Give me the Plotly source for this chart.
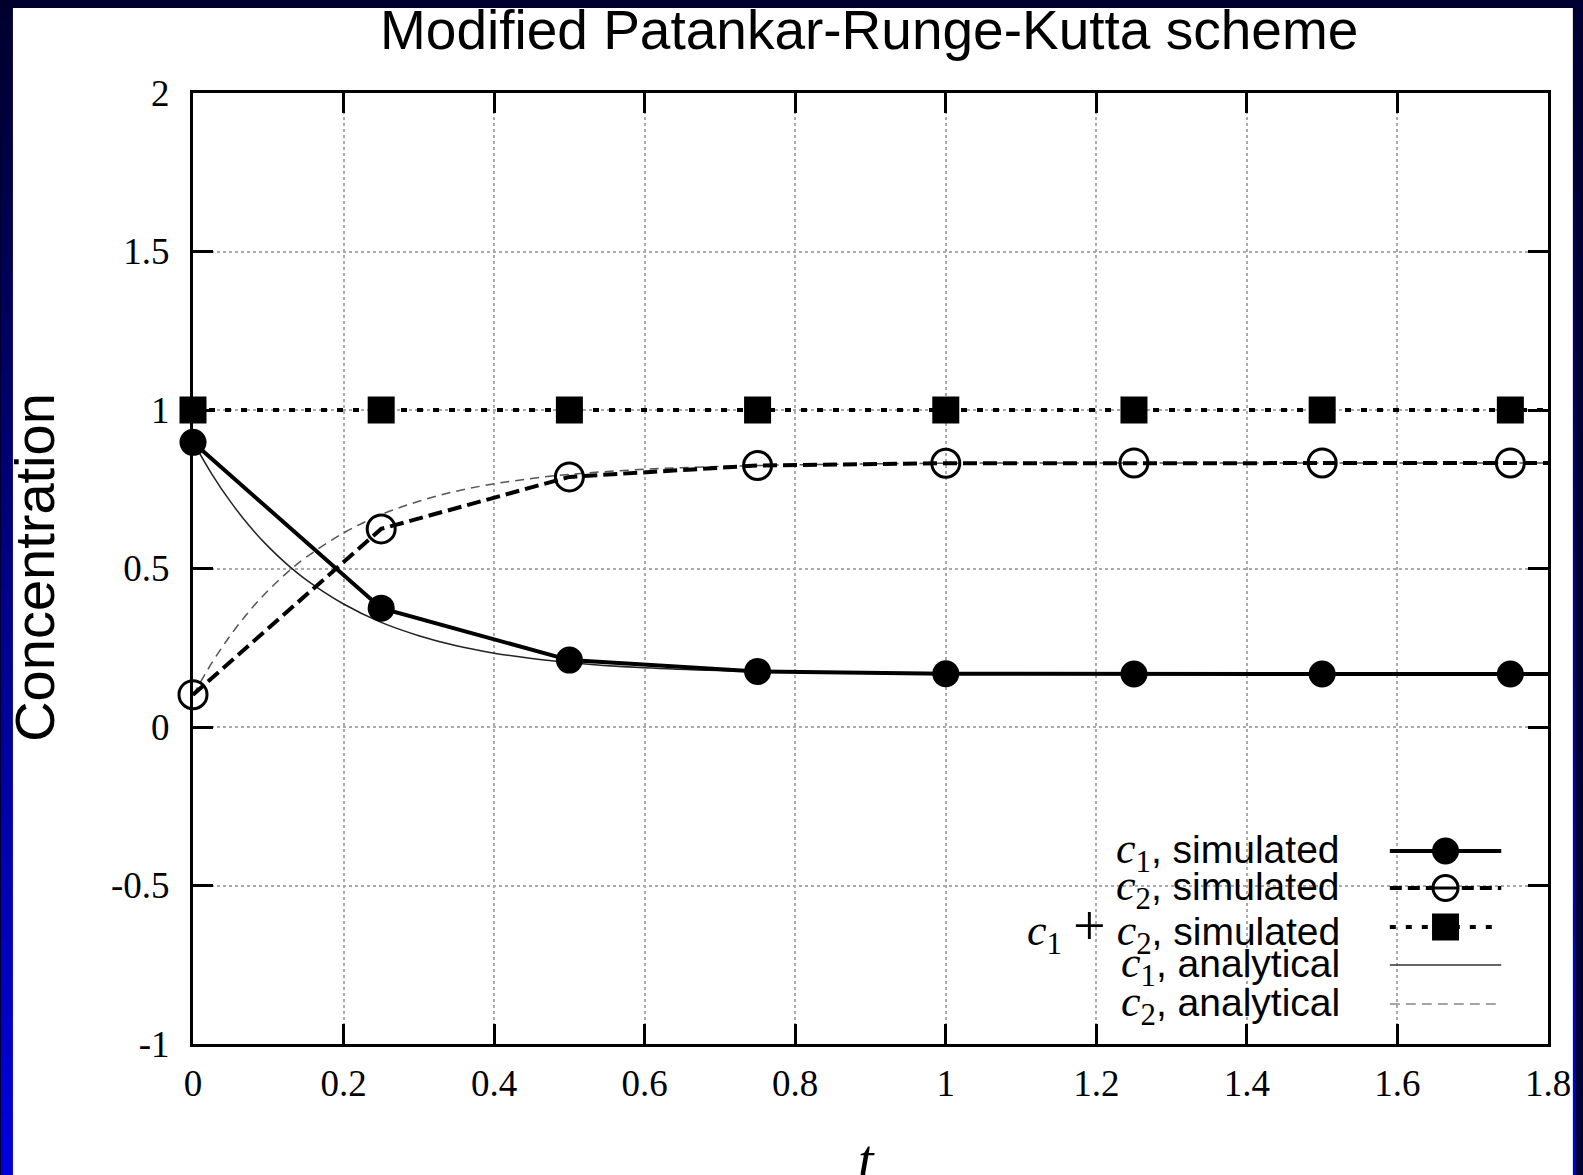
import plotly.graph_objects as go

# ---------------- data ----------------
t_sim = [0.0, 0.25, 0.5, 0.75, 1.0, 1.25, 1.5, 1.75, 2.0]
c1_sim = [0.898, 0.375, 0.211, 0.175, 0.168, 0.167, 0.167, 0.167, 0.167]
c2_sim = [0.102, 0.625, 0.789, 0.825, 0.832, 0.833, 0.833, 0.833, 0.833]
sum_sim = [1.0, 1.0, 1.0, 1.0, 1.0, 1.0, 1.0, 1.0, 1.0]

t_ana = [0.0, 0.025, 0.05, 0.075, 0.1, 0.125, 0.15, 0.2, 0.25, 0.3, 0.35, 0.4,
         0.45, 0.5, 0.6, 0.7, 0.8, 0.9, 1.0, 1.2, 1.4, 1.6, 1.8]
c1_ana = [0.9, 0.798, 0.710, 0.634, 0.569, 0.513, 0.465, 0.388, 0.330, 0.288, 0.256, 0.233,
          0.216, 0.203, 0.187, 0.178, 0.173, 0.170, 0.168, 0.167, 0.167, 0.167, 0.167]
c2_ana = [0.1, 0.202, 0.290, 0.366, 0.431, 0.487, 0.535, 0.612, 0.670, 0.712, 0.744, 0.767,
          0.784, 0.797, 0.813, 0.822, 0.827, 0.830, 0.832, 0.833, 0.833, 0.833, 0.833]

x_tickvals = [0, 0.2, 0.4, 0.6, 0.8, 1.0, 1.2, 1.4, 1.6, 1.8]
x_ticktext = ["0", "0.2", "0.4", "0.6", "0.8", "1", "1.2", "1.4", "1.6", "1.8"]
y_tickvals = [-1, -0.5, 0, 0.5, 1, 1.5, 2]
y_ticktext = ["-1", "-0.5", "0", "0.5", "1", "1.5", "2"]

M = "<span style='font-family:Liberation Serif;font-size:44px'>"
legend_labels = [
    M + "<i>c</i><sub>1</sub></span>, simulated",
    M + "<i>c</i><sub>2</sub></span>, simulated",
    M + "<i>c</i><sub>1</sub> <span style='font-size:58px'>+</span> <i>c</i><sub>2</sub></span>, simulated",
    M + "<i>c</i><sub>1</sub></span>, analytical",
    M + "<i>c</i><sub>2</sub></span>, analytical",
]
title_text = "Modified Patankar-Runge-Kutta scheme"
x_title = "<i>t</i>"
y_title = "Concentration"

X_MAX = 1.8

# ---------------- geometry ----------------
W, H = 1583, 1175
L, R, T, B = 193, 28, 93, 131
PW, PH = W - L - R, H - T - B


def px(x):
    return (x - L) / PW


def py(y):
    return (H - B - y) / PH


fig = go.Figure()

# analytical curves
fig.add_trace(go.Scatter(x=t_ana, y=c1_ana, mode="lines", line=dict(color="#222222", width=1.5, shape="spline"),
                         showlegend=False, hoverinfo="skip"))
fig.add_trace(go.Scatter(x=t_ana, y=c2_ana, mode="lines", line=dict(color="#555555", width=1.5, dash="9px,6px", shape="spline"),
                         showlegend=False, hoverinfo="skip"))

# simulated lines
fig.add_trace(go.Scatter(x=t_sim, y=c1_sim, mode="lines", line=dict(color="black", width=4),
                         showlegend=False))
fig.add_trace(go.Scatter(x=t_sim, y=c2_sim, mode="lines", line=dict(color="black", width=4, dash="14px,6px"),
                         showlegend=False))
fig.add_trace(go.Scatter(x=t_sim, y=sum_sim, mode="lines", line=dict(color="black", width=4, dash="6px,10px"),
                         showlegend=False))

# simulated markers (points within the visible range)
idx = [i for i, t in enumerate(t_sim) if t <= X_MAX]
tm = [t_sim[i] for i in idx]
fig.add_trace(go.Scatter(x=tm, y=[c1_sim[i] for i in idx], mode="markers", cliponaxis=False,
                         marker=dict(symbol="circle", size=27, color="black"), showlegend=False))
fig.add_trace(go.Scatter(x=tm, y=[c2_sim[i] for i in idx], mode="markers", cliponaxis=False,
                         marker=dict(symbol="circle-open", size=28, color="black", line=dict(width=3, color="black")),
                         showlegend=False))
fig.add_trace(go.Scatter(x=tm, y=[sum_sim[i] for i in idx], mode="markers", cliponaxis=False,
                         marker=dict(symbol="square", size=27, color="black"), showlegend=False))

shapes = []
# gradient background
NB = 60
for k in range(NB):
    y0p = H * k / NB
    y1p = H * (k + 1) / NB + 1
    f = (k + 0.5) / NB
    b = int(45 + (225 - 45) * f)
    shapes.append(dict(type="rect", xref="paper", yref="paper", layer="below",
                       x0=px(0), x1=px(W), y0=py(y1p), y1=py(y0p),
                       line=dict(width=0), fillcolor=f"rgb(0,0,{b})"))
# white page
shapes.append(dict(type="rect", xref="paper", yref="paper", layer="below",
                   x0=px(12), x1=px(1580), y0=py(H + 5), y1=py(8),
                   line=dict(width=0), fillcolor="white"))

# legend
rows_y = [851, 888, 927, 965, 1004]
ls_x0, ls_x1, lm_x = 1396, 1508, 1452
annotations = []
for lab, ry in zip(legend_labels, rows_y):
    annotations.append(dict(text=lab, xref="paper", yref="paper", x=px(1348), y=py(ry),
                            xanchor="right", yanchor="middle", showarrow=False,
                            font=dict(family="Liberation Sans", size=39, color="black")))

line_styles = [
    dict(color="black", width=4),
    dict(color="black", width=4, dash="12px,6px"),
    dict(color="black", width=4, dash="6px,10px"),
    dict(color="#333333", width=1.5),
    dict(color="#888888", width=1.5, dash="10px,6px"),
]
for st, ry in zip(line_styles, rows_y):
    shapes.append(dict(type="line", xref="paper", yref="paper", x0=px(ls_x0), x1=px(ls_x1),
                       y0=py(ry), y1=py(ry), line=st))
# legend markers
shapes.append(dict(type="circle", xref="paper", yref="paper", xsizemode="pixel", ysizemode="pixel",
                   xanchor=px(lm_x), yanchor=py(rows_y[0]), x0=-13.5, x1=13.5, y0=-13.5, y1=13.5,
                   fillcolor="black", line=dict(width=0)))
shapes.append(dict(type="circle", xref="paper", yref="paper", xsizemode="pixel", ysizemode="pixel",
                   xanchor=px(lm_x), yanchor=py(rows_y[1]), x0=-12.5, x1=12.5, y0=-12.5, y1=12.5,
                   fillcolor="white", line=dict(width=3, color="black")))
shapes.append(dict(type="line", xref="paper", yref="paper", xsizemode="pixel", ysizemode="pixel",
                   xanchor=px(lm_x), yanchor=py(rows_y[1]), x0=-12, x1=12, y0=0, y1=0,
                   line=dict(width=3, color="black")))
shapes.append(dict(type="rect", xref="paper", yref="paper", xsizemode="pixel", ysizemode="pixel",
                   xanchor=px(lm_x), yanchor=py(rows_y[2]), x0=-13.5, x1=13.5, y0=-13.5, y1=13.5,
                   fillcolor="black", line=dict(width=0)))

# axis titles
annotations.append(dict(text=y_title, xref="paper", yref="paper", x=px(33), y=py(567),
                        xanchor="center", yanchor="middle", textangle=-90, showarrow=False,
                        font=dict(family="Liberation Sans", size=56, color="black")))
annotations.append(dict(text=x_title, xref="paper", yref="paper", x=px(870), y=py(1160),
                        xanchor="center", yanchor="middle", showarrow=False,
                        font=dict(family="Liberation Serif", size=56, color="black")))
annotations.append(dict(text=title_text, xref="paper", yref="paper", x=px(872), y=py(30),
                        xanchor="center", yanchor="middle", showarrow=False,
                        font=dict(family="Liberation Sans", size=55, color="black")))

axis_common = dict(ticks="inside", ticklen=20, tickwidth=2.5, tickcolor="black",
                   showline=True, linewidth=3, linecolor="black", mirror="ticks",
                   showgrid=True, gridcolor="#aaaaaa", gridwidth=1.5, griddash="dot",
                   zeroline=False,
                   tickfont=dict(family="Liberation Serif", size=37, color="black"))

fig.update_layout(
    width=W, height=H,
    margin=dict(l=L, r=R, t=T, b=B, pad=0),
    paper_bgcolor="#000033", plot_bgcolor="white",
    xaxis=dict(range=[0, X_MAX], tickvals=x_tickvals, ticktext=x_ticktext,
               ticklabelstandoff=5, **axis_common),
    yaxis=dict(range=[-1, 2], tickvals=y_tickvals, ticktext=y_ticktext,
               ticklabelstandoff=13, **axis_common),
    shapes=shapes, annotations=annotations,
    showlegend=False,
)

fig.write_html("out.html", config={"displayModeBar": False},
               post_script="document.body.style.margin='0';document.body.style.overflow='hidden';")
